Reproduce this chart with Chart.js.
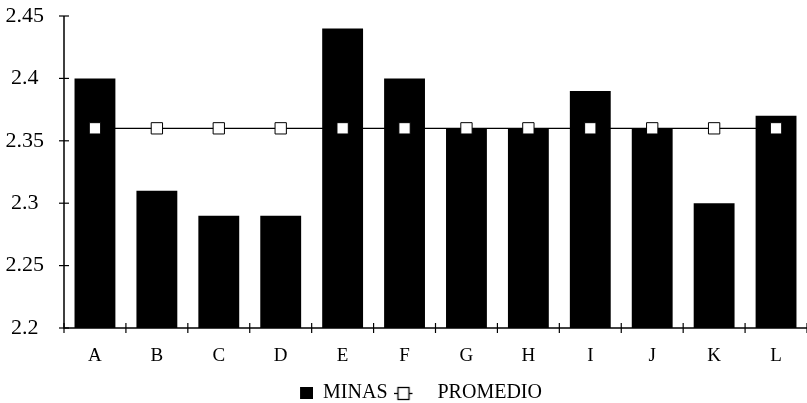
<!DOCTYPE html>
<html>
<head>
<meta charset="utf-8">
<script src="https://cdn.jsdelivr.net/npm/chart.js@4/dist/chart.umd.min.js"></script>
<style>
  html, body { margin: 0; padding: 0; background: #fff; }
  #wrap { width: 807px; height: 403px; }
</style>
</head>
<body>
<div id="wrap"><canvas id="chart" width="807" height="403"></canvas></div>
<script>
// Datos
const categorias = ['A', 'B', 'C', 'D', 'E', 'F', 'G', 'H', 'I', 'J', 'K', 'L'];
const minas = [2.40, 2.31, 2.29, 2.29, 2.44, 2.40, 2.36, 2.36, 2.39, 2.36, 2.30, 2.37];
const promedio = [2.36, 2.36, 2.36, 2.36, 2.36, 2.36, 2.36, 2.36, 2.36, 2.36, 2.36, 2.36];
const yMin = 2.2, yMax = 2.45, yStep = 0.05;

const fuente = 'Liberation Serif';
const anchoIcono = 34;

// Iconos de la leyenda (mismo ancho para las dos entradas)
function iconoBarra() {
    const c = document.createElement('canvas');
    c.width = anchoIcono; c.height = 14;
    const g = c.getContext('2d');
    g.fillStyle = '#000';
    g.fillRect(anchoIcono - 13, 1, 13, 12);
    return c;
}
function iconoLinea() {
    const c = document.createElement('canvas');
    c.width = anchoIcono; c.height = 16;
    const g = c.getContext('2d');
    g.strokeStyle = '#000';
    g.lineWidth = 1.3;
    g.beginPath(); g.moveTo(0, 8.5); g.lineTo(19, 8.5); g.stroke();
    g.fillStyle = '#fff';
    g.fillRect(4.5, 2.5, 11, 12);
    g.strokeRect(4.5, 2.5, 11, 12);
    return c;
}

// Ejes con marcas cortas que los cruzan
const marcasEjes = {
    id: 'marcasEjes',
    afterLayout(chart) {
        // la leyenda va un poco más a la derecha y más abajo que el centrado por defecto
        const lg = chart.legend;
        lg.left += 7; lg.right += 7;
        lg.top += 10; lg.bottom += 10;
    },
    afterDraw(chart) {
        const ctx = chart.ctx;
        const y = chart.scales.y;
        const area = chart.chartArea;
        ctx.save();
        ctx.strokeStyle = '#000';
        ctx.lineWidth = 1.5;
        ctx.beginPath();
        ctx.moveTo(area.left, area.top);
        ctx.lineTo(area.left, area.bottom);
        ctx.lineTo(area.right, area.bottom);
        ctx.stroke();
        ctx.lineWidth = 1.2;
        y.ticks.forEach((t, i) => {
            const py = y.getPixelForTick(i);
            ctx.beginPath();
            ctx.moveTo(area.left - 5, py);
            ctx.lineTo(area.left + 5, py);
            ctx.stroke();
        });
        for (let i = 0; i <= categorias.length; i++) {
            const px = area.left + (area.right - area.left) * i / categorias.length;
            ctx.beginPath();
            ctx.moveTo(px, area.bottom - 5);
            ctx.lineTo(px, area.bottom + 5);
            ctx.stroke();
        }
        ctx.restore();
    }
};

new Chart(document.getElementById('chart').getContext('2d'), {
    data: {
        labels: categorias,
        datasets: [
            {
                type: 'bar',
                label: 'MINAS',
                data: minas,
                backgroundColor: '#000',
                borderWidth: 0,
                barPercentage: 0.66,
                categoryPercentage: 1,
                order: 2
            },
            {
                type: 'line',
                label: 'PROMEDIO',
                data: promedio,
                borderColor: '#000',
                borderWidth: 1.2,
                backgroundColor: '#fff',
                pointStyle: 'rect',
                pointRadius: 8,
                pointBorderWidth: 1,
                pointBorderColor: '#000',
                pointBackgroundColor: '#fff',
                order: 1
            }
        ]
    },
    options: {
        responsive: false,
        animation: false,
        layout: { autoPadding: false, padding: 0 },
        plugins: {
            tooltip: { enabled: false },
            legend: {
                position: 'bottom',
                labels: {
                    usePointStyle: true,
                    pointStyleWidth: anchoIcono,
                    color: '#000',
                    padding: 6,
                    font: { family: fuente, size: 20 },
                    generateLabels(chart) {
                        return [
                            { text: 'MINAS', pointStyle: iconoBarra(), datasetIndex: 0, fontColor: '#000', lineWidth: 0 },
                            { text: 'PROMEDIO', pointStyle: iconoLinea(), datasetIndex: 1, fontColor: '#000', lineWidth: 0 }
                        ];
                    }
                }
            }
        },
        scales: {
            x: {
                afterFit(scale) {
                    scale.height = 39;
                    scale.paddingLeft = 0;
                    scale.paddingRight = 0;
                },
                grid: { display: false },
                border: { display: false },
                ticks: { color: '#000', padding: 9, font: { family: fuente, size: 19 } }
            },
            y: {
                min: yMin,
                max: yMax,
                afterFit(scale) {
                    scale.width = 64;
                    scale.paddingTop = 16;
                    scale.paddingBottom = 0;
                },
                afterBuildTicks(scale) {
                    const t = [];
                    for (let v = yMin; v <= yMax + 1e-9; v += yStep) t.push({ value: Math.round(v * 100) / 100 });
                    scale.ticks = t;
                },
                grid: { display: false },
                border: { display: false },
                ticks: {
                    color: '#000',
                    padding: 12,
                    crossAlign: 'center',
                    font: { family: fuente, size: 22 },
                    callback: v => String(Math.round(v * 100) / 100)
                }
            }
        }
    },
    plugins: [marcasEjes]
});
</script>
</body>
</html>
